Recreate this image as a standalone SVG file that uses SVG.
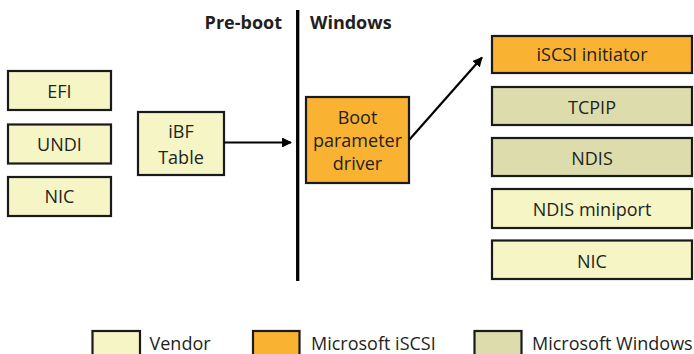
<svg xmlns="http://www.w3.org/2000/svg" width="694" height="354" viewBox="0 0 694 354">
<defs>
<style>
.box{stroke:#1a1a1a;stroke-width:2.2}
.v{fill:#F5F5C6}
.o{fill:#FAB233}
.w{fill:#DCDCAC}
text{font-family:"Open Sans","Noto Sans",sans-serif;font-size:18px;fill:#231F20;text-anchor:middle}
.h{font-weight:bold;font-size:18px}
.l{text-anchor:start}
.c{stroke:#000;stroke-width:2.2;fill:none}
</style>
<marker id="ah" viewBox="0 0 10 10" refX="9" refY="5" markerWidth="4.5" markerHeight="4.5" orient="auto" markerUnits="strokeWidth">
<path d="M0,0 L10,5 L0,10 z" fill="#000"/>
</marker>
</defs>
<rect width="694" height="354" fill="#fff"/>
<g id="headers">
<text class="h" x="282" y="29" style="text-anchor:end">Pre-boot</text>
<text class="h l" x="310" y="29">Windows</text>
</g>
<g id="divider">
<line x1="297.7" y1="10" x2="297.7" y2="281" stroke="#000" stroke-width="3.3"/>
</g>
<g id="efi"><rect class="box v" x="8" y="71" width="103" height="39"/><text x="59.5" y="97.5">EFI</text></g>
<g id="undi"><rect class="box v" x="8" y="124.5" width="103" height="39"/><text x="59.5" y="150.5">UNDI</text></g>
<g id="nic-left"><rect class="box v" x="8" y="177" width="103" height="39"/><text x="59.5" y="203">NIC</text></g>
<g id="ibf"><rect class="box v" x="138" y="112" width="86" height="63"/><text x="181" y="137.5">iBF</text><text x="181" y="164">Table</text></g>
<g id="bootparam"><rect class="box o" x="306" y="97" width="103" height="86"/><text x="357.5" y="124">Boot</text><text x="357.5" y="147">parameter</text><text x="357.5" y="169.5">driver</text></g>
<g id="iscsi"><rect class="box o" x="492" y="36" width="200" height="37"/><text x="592" y="60.5">iSCSI initiator</text></g>
<g id="tcpip"><rect class="box w" x="492" y="87" width="200" height="38"/><text x="592" y="113.5">TCPIP</text></g>
<g id="ndis"><rect class="box w" x="492" y="138" width="200" height="38"/><text x="592" y="165">NDIS</text></g>
<g id="miniport"><rect class="box v" x="492" y="189" width="200" height="39"/><text x="592" y="215.5">NDIS miniport</text></g>
<g id="nic-right"><rect class="box v" x="492" y="240.5" width="200" height="38.5"/><text x="592" y="268">NIC</text></g>
<g id="connectors">
<line class="c" x1="224" y1="142.5" x2="291" y2="142.5" marker-end="url(#ah)"/>
<line class="c" x1="409.5" y1="139.5" x2="482" y2="57.5" marker-end="url(#ah)"/>
</g>
<g id="legend">
<rect class="box v" x="92.5" y="331" width="47.5" height="28"/><text class="l" x="149.5" y="349.5">Vendor</text>
<rect class="box o" x="253" y="331" width="46.5" height="28"/><text class="l" x="311" y="349.5">Microsoft iSCSI</text>
<rect class="box w" x="474.5" y="331" width="47" height="28"/><text class="l" x="532" y="349.5">Microsoft Windows</text>
</g>
</svg>
